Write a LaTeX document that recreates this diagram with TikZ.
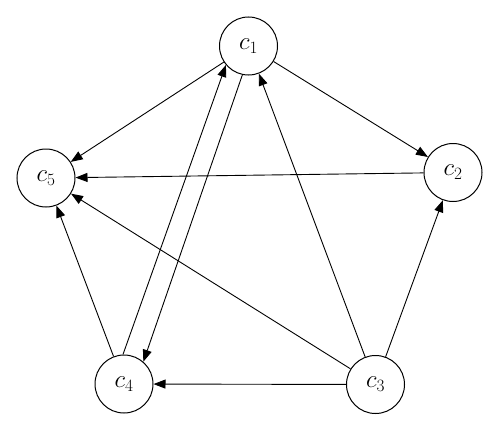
\documentclass[tikz,border=0pt]{standalone}
\usetikzlibrary{arrows.meta}
\begin{document}
\begin{tikzpicture}[x=1pt,y=-1pt,
  vtx/.style={circle,draw,line width=1pt,minimum size=58pt,inner sep=0pt,font=\fontsize{23}{26}\selectfont},
  edge/.style={line width=0.9pt,-{Triangle[length=12pt,width=9pt]}}]
\useasboundingbox (0,0) rectangle (500,431);
\node[vtx] (c1) at (248.5,46) {$c_1$};
\node[vtx] (c2) at (453,172.5) {$c_2$};
\node[vtx] (c3) at (375.5,384.5) {$c_3$};
\node[vtx] (c4) at (124,384) {$c_4$};
\node[vtx] (c5) at (46,178) {$c_5$};
\draw[edge] (c1) -- (c5);
\draw[edge] (c1) -- (c2);
\draw[edge] (c2) -- (c5);
\draw[edge] (c1.258) -- (c4.49);
\draw[edge] (c4.92) -- (c1.220);
\draw[edge] (c3) -- (c1);
\draw[edge] (c3) -- (c5);
\draw[edge] (c3) -- (c2);
\draw[edge] (c3) -- (c4);
\draw[edge] (c4) -- (c5);
\end{tikzpicture}
\end{document}
